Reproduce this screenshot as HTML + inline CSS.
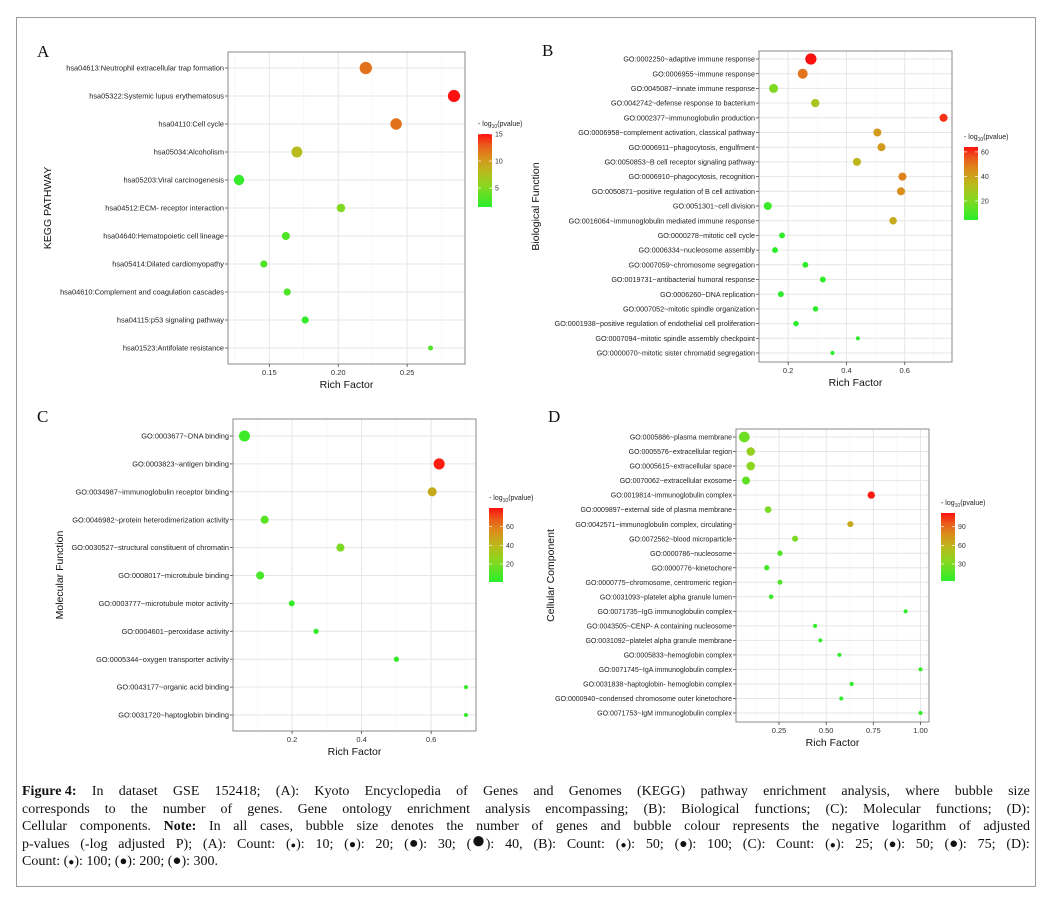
<!DOCTYPE html>
<html><head><meta charset="utf-8">
<style>
html,body{margin:0;padding:0;background:#fff;}
#wrap{position:relative;width:1046px;height:905px;overflow:hidden;background:#fff;}
#frame{position:absolute;left:16px;top:17px;width:1020px;height:870px;border:1px solid #9a9a9a;box-sizing:border-box;}
svg text{font-family:"Liberation Sans",Arial,sans-serif;}
#caption{position:absolute;left:22px;top:783px;width:1008px;font-family:"Liberation Serif",serif;font-size:14px;line-height:17.5px;color:#111;}
#caption .ln{text-align:justify;text-align-last:justify;white-space:nowrap;display:flex;justify-content:space-between;}
#caption .last{text-align:left;text-align-last:left;display:block;}
#caption b{font-weight:bold;}
.bl{display:inline-block;line-height:0;vertical-align:baseline;}
</style></head>
<body>
<div id="wrap">
<div id="frame"></div>
<svg id="chart" width="1046" height="905" style="position:absolute;left:0;top:0"></svg>
<div id="caption">
<div class="ln"><span><b>Figure 4:</b></span><span>In</span><span>dataset</span><span>GSE</span><span>152418;</span><span>(A):</span><span>Kyoto</span><span>Encyclopedia</span><span>of</span><span>Genes</span><span>and</span><span>Genomes</span><span>(KEGG)</span><span>pathway</span><span>enrichment</span><span>analysis,</span><span>where</span><span>bubble</span><span>size</span></div>
<div class="ln"><span>corresponds</span><span>to</span><span>the</span><span>number</span><span>of</span><span>genes.</span><span>Gene</span><span>ontology</span><span>enrichment</span><span>analysis</span><span>encompassing;</span><span>(B):</span><span>Biological</span><span>functions;</span><span>(C):</span><span>Molecular</span><span>functions;</span><span>(D):</span></div>
<div class="ln"><span>Cellular</span><span>components.</span><span><b>Note:</b></span><span>In</span><span>all</span><span>cases,</span><span>bubble</span><span>size</span><span>denotes</span><span>the</span><span>number</span><span>of</span><span>genes</span><span>and</span><span>bubble</span><span>colour</span><span>represents</span><span>the</span><span>negative</span><span>logarithm</span><span>of</span><span>adjusted</span></div>
<div class="ln"><span>p-values</span><span>(-log</span><span>adjusted</span><span>P);</span><span>(A):</span><span>Count:</span><span>(<span class="bl" style="font-size:9px">●</span>):</span><span>10;</span><span>(<span class="bl" style="font-size:12px">●</span>):</span><span>20;</span><span>(<span class="bl" style="font-size:16px">●</span>):</span><span>30;</span><span>(<span class="bl" style="font-size:24px">●</span>):</span><span>40,</span><span>(B):</span><span>Count:</span><span>(<span class="bl" style="font-size:10px">●</span>):</span><span>50;</span><span>(<span class="bl" style="font-size:14px">●</span>):</span><span>100;</span><span>(C):</span><span>Count:</span><span>(<span class="bl" style="font-size:10px">●</span>):</span><span>25;</span><span>(<span class="bl" style="font-size:13px">●</span>):</span><span>50;</span><span>(<span class="bl" style="font-size:15px">●</span>):</span><span>75;</span><span>(D):</span></div>
<div class="last">Count: (<span class="bl" style="font-size:10px">●</span>): 100; (<span class="bl" style="font-size:13px">●</span>): 200; (<span class="bl" style="font-size:15px">●</span>): 300.</div>
</div>
</div>
<script>
// ---------- Panel A data ----------
const aLabels = ["hsa04613:Neutrophil extracellular trap formation","hsa05322:Systemic lupus erythematosus","hsa04110:Cell cycle","hsa05034:Alcoholism","hsa05203:Viral carcinogenesis","hsa04512:ECM- receptor interaction","hsa04640:Hematopoietic cell lineage","hsa05414:Dilated cardiomyopathy","hsa04610:Complement and coagulation cascades","hsa04115:p53 signaling pathway","hsa01523:Antifolate resistance"];
const aRich = [0.220,0.284,0.242,0.170,0.128,0.202,0.162,0.146,0.163,0.176,0.267];
const aCount = [38,37,33,30,27,18,16,13,13,13,6];
const aLogP = [12,15,12,8,2,5,3,3,3,2,3];
const aTicks = [0.15,0.20,0.25];
const aTickLabels = ["0.15","0.20","0.25"];
const aLegTicks = [5,10,15];
// ---------- Panel B data ----------
const bLabels = ["GO:0002250~adaptive immune response","GO:0006955~immune response","GO:0045087~innate immune response","GO:0042742~defense response to bacterium","GO:0002377~immunoglobulin production","GO:0006958~complement activation, classical pathway","GO:0006911~phagocytosis, engulfment","GO:0050853~B cell receptor signaling pathway","GO:0006910~phagocytosis, recognition","GO:0050871~positive regulation of B cell activation","GO:0051301~cell division","GO:0016064~immunoglobulin mediated immune response","GO:0000278~mitotic cell cycle","GO:0006334~nucleosome assembly","GO:0007059~chromosome segregation","GO:0019731~antibacterial humoral response","GO:0006260~DNA replication","GO:0007052~mitotic spindle organization","GO:0001938~positive regulation of endothelial cell proliferation","GO:0007094~mitotic spindle assembly checkpoint","GO:0000070~mitotic sister chromatid segregation"];
const bRich = [0.278,0.250,0.150,0.293,0.733,0.506,0.520,0.436,0.592,0.587,0.130,0.560,0.179,0.155,0.259,0.319,0.175,0.294,0.227,0.439,0.352];
const bCount = [145,115,95,80,75,75,75,75,75,75,75,65,40,40,40,40,40,35,35,20,20];
const bLogP = [64,50,20,30,60,42,42,35,48,45,8,38,5,5,5,5,5,5,5,5,5];
const bTicks = [0.2,0.4,0.6];
const bTickLabels = ["0.2","0.4","0.6"];
const bLegTicks = [20,40,60];
// ---------- Panel C data ----------
const cLabels = ["GO:0003677~DNA binding","GO:0003823~antigen binding","GO:0034987~immunoglobulin receptor binding","GO:0046982~protein heterodimerization activity","GO:0030527~structural constituent of chromatin","GO:0008017~microtubule binding","GO:0003777~microtubule motor activity","GO:0004601~peroxidase activity","GO:0005344~oxygen transporter activity","GO:0043177~organic acid binding","GO:0031720~haptoglobin binding"];
const cRich = [0.063,0.623,0.603,0.121,0.339,0.108,0.199,0.269,0.500,0.700,0.700];
const cCount = [75,75,50,40,40,40,22,17,17,10,10];
const cLogP = [5,78,45,12,20,8,3,3,3,3,3];
const cTicks = [0.2,0.4,0.6];
const cTickLabels = ["0.2","0.4","0.6"];
const cLegTicks = [20,40,60];
// ---------- Panel D data ----------
const dLabels = ["GO:0005886~plasma membrane","GO:0005576~extracellular region","GO:0005615~extracellular space","GO:0070062~extracellular exosome","GO:0019814~immunoglobulin complex","GO:0009897~external side of plasma membrane","GO:0042571~immunoglobulin complex, circulating","GO:0072562~blood microparticle","GO:0000786~nucleosome","GO:0000776~kinetochore","GO:0000775~chromosome, centromeric region","GO:0031093~platelet alpha granule lumen","GO:0071735~IgG immunoglobulin complex","GO:0043505~CENP- A containing nucleosome","GO:0031092~platelet alpha granule membrane","GO:0005833~hemoglobin complex","GO:0071745~IgA immunoglobulin complex","GO:0031838~haptoglobin- hemoglobin complex","GO:0000940~condensed chromosome outer kinetochore","GO:0071753~IgM immunoglobulin complex"];
const dRich = [0.066,0.100,0.100,0.075,0.739,0.192,0.628,0.335,0.255,0.185,0.255,0.208,0.921,0.441,0.469,0.570,1.000,0.635,0.580,1.000];
const dCount = [300,190,190,170,140,115,95,95,75,75,65,55,42,42,42,42,42,42,42,42];
const dLogP = [25,40,35,20,110,30,65,30,15,12,15,8,5,5,5,5,5,5,5,5];
const dTicks = [0.25,0.50,0.75,1.00];
const dTickLabels = ["0.25","0.50","0.75","1.00"];
const dLegTicks = [30,60,90];

const NS = "http://www.w3.org/2000/svg";
const svg = document.getElementById("chart");
function mk(tag, attrs, parent){
  const e = document.createElementNS(NS, tag);
  for (const k in attrs) e.setAttribute(k, attrs[k]);
  (parent||svg).appendChild(e);
  return e;
}
const stops = [[0,[42,238,42]],[0.3,[140,214,32]],[0.5,[188,184,28]],[0.7,[220,138,28]],[0.85,[234,90,28]],[1,[255,16,16]]];
function colorAt(t){
  t = Math.max(0, Math.min(1, t));
  for (let i=1;i<stops.length;i++){
    if (t <= stops[i][0]){
      const a=stops[i-1], b=stops[i], f=(t-a[0])/(b[0]-a[0]);
      const c=a[1].map((v,j)=>Math.round(v+(b[1][j]-v)*f));
      return "rgb("+c.join(",")+")";
    }
  }
  return "rgb(255,16,16)";
}

function panel(p){
  const g = mk("g", {});
  
  
  const xs = v => p.x0 + (v - p.d0) / (p.d1 - p.d0) * (p.x1 - p.x0);
  const n = p.labels.length;
  const ys = i => p.yFirst + i * (p.yLast - p.yFirst) / (n - 1);
  mk("rect", {x:p.x0, y:p.y0, width:p.x1-p.x0, height:p.y1-p.y0, fill:"#fff"}, g);
  const step = p.ticks[1]-p.ticks[0];
  for (let v = p.ticks[0]-step/2; v < p.d1; v += step){
    if (v > p.d0) mk("line", {x1:xs(v), x2:xs(v), y1:p.y0, y2:p.y1, stroke:"#f3f3f3", "stroke-width":0.6}, g);
  }
  p.ticks.forEach(v => {
    const l = mk("line", {x1:xs(v), x2:xs(v), y1:p.y0, y2:p.y1, stroke:"#e6e6e6", "stroke-width":1}, g);
    
    
  });
  p.labels.forEach((lab, i) => {
    const gl = mk("line", {x1:p.x0, x2:p.x1, y1:ys(i), y2:ys(i), stroke:"#e6e6e6", "stroke-width":1}, g);
    
    
    mk("line", {x1:p.x0-3, x2:p.x0, y1:ys(i), y2:ys(i), stroke:"#444", "stroke-width":0.8}, g);
    const t = mk("text", {x:p.x0-4, y:ys(i)+2.6, "font-size":p.fs, "text-anchor":"end", fill:"#222"}, g);
    t.textContent = lab;
    
    
  });
  const br = mk("rect", {x:p.x0, y:p.y0, width:p.x1-p.x0, height:p.y1-p.y0, fill:"none", stroke:"#8a8a8a", "stroke-width":1}, g);
  
  
  p.ticks.forEach((v, i) => {
    mk("line", {x1:xs(v), x2:xs(v), y1:p.y1, y2:p.y1+3, stroke:"#444", "stroke-width":0.8}, g);
    const t = mk("text", {x:xs(v), y:p.y1+11, "font-size":7.5, "text-anchor":"middle", fill:"#333"}, g);
    t.textContent = p.tickLabels[i];
    
    
  });
  const lmin = p.legMin, lmax = p.legMax;
  p.labels.forEach((lab, i) => {
    const c = mk("circle", {cx:xs(p.rich[i]), cy:ys(i), r:(p.k*Math.sqrt(p.count[i])).toFixed(2), fill:colorAt((p.logp[i]-lmin)/(lmax-lmin))}, g);
    
    
  });
  const xt = mk("text", {x:(p.x0+p.x1)/2, y:p.y1+24, "font-size":10.5, "text-anchor":"middle", fill:"#111"}, g);
  xt.textContent = "Rich Factor";
  
  
  const yt = mk("text", {x:p.ytx, y:(p.y0+p.y1)/2, "font-size":10.5, "text-anchor":"middle", fill:"#111", transform:"rotate(-90 "+p.ytx+" "+((p.y0+p.y1)/2)+")"}, g);
  yt.textContent = p.ytitle;
  
  
  const pl = mk("text", {x:p.lx, y:p.ly, "font-size":17, fill:"#111", style:"font-family:'Liberation Serif',serif"}, g);
  pl.textContent = p.letter;
  
  
  const lg = mk("g", {}, g);
  
  
  const lt = mk("text", {x:p.legX, y:p.legY0-8, "font-size":7, fill:"#222"}, lg);
  lt.innerHTML = '- log<tspan font-size="5" dy="2">10</tspan><tspan dy="-2">(pvalue)</tspan>';
  
  
  const gid = "grad" + p.id;
  const defs = mk("defs", {}, lg);
  const lgr = mk("linearGradient", {id:gid, x1:0, y1:1, x2:0, y2:0}, defs);
  for (let s=0; s<=20; s++){ mk("stop", {offset:(s/20), "stop-color":colorAt(s/20)}, lgr); }
  const bar = mk("rect", {x:p.legX, y:p.legY0, width:14, height:p.legY1-p.legY0, fill:"url(#"+gid+")"}, lg);
  
  
  const ly = v => p.legY1 - (v - lmin)/(lmax - lmin)*(p.legY1 - p.legY0);
  p.legTicks.forEach(v => {
    mk("line", {x1:p.legX, x2:p.legX+3, y1:ly(v), y2:ly(v), stroke:"#fff", "stroke-width":0.7}, lg);
    mk("line", {x1:p.legX+11, x2:p.legX+14, y1:ly(v), y2:ly(v), stroke:"#fff", "stroke-width":0.7}, lg);
    const t = mk("text", {x:p.legX+17, y:ly(v)+2.5, "font-size":7, fill:"#333"}, lg);
    t.textContent = v;
    
    
  });
}

panel({id:"a", letter:"A", lx:37, ly:57, labels:aLabels, rich:aRich, count:aCount, logp:aLogP, ticks:aTicks, tickLabels:aTickLabels,
  x0:228, x1:465, y0:52, y1:364, d0:0.120, d1:0.292, yFirst:68, yLast:348, k:1.0, fs:7.4,
  ytitle:"KEGG PATHWAY", ytx:51, legX:478, legY0:134, legY1:207, legMin:1.5, legMax:15, legTicks:aLegTicks});
panel({id:"b", letter:"B", lx:542, ly:56, labels:bLabels, rich:bRich, count:bCount, logp:bLogP, ticks:bTicks, tickLabels:bTickLabels,
  x0:759, x1:952, y0:51, y1:362, d0:0.100, d1:0.762, yFirst:59, yLast:353, k:0.465, fs:7.2,
  ytitle:"Biological Function", ytx:539, legX:964, legY0:147, legY1:220, legMin:4.5, legMax:64, legTicks:bLegTicks});
panel({id:"c", letter:"C", lx:37, ly:422, labels:cLabels, rich:cRich, count:cCount, logp:cLogP, ticks:cTicks, tickLabels:cTickLabels,
  x0:233, x1:476, y0:419, y1:731, d0:0.030, d1:0.729, yFirst:436, yLast:715, k:0.64, fs:7.4,
  ytitle:"Molecular Function", ytx:63, legX:489, legY0:508, legY1:582, legMin:0.7, legMax:80, legTicks:cLegTicks});
panel({id:"d", letter:"D", lx:548, ly:422, labels:dLabels, rich:dRich, count:dCount, logp:dLogP, ticks:dTicks, tickLabels:dTickLabels,
  x0:736, x1:929, y0:429, y1:722, d0:0.022, d1:1.045, yFirst:437, yLast:713, k:0.31, fs:7.0,
  ytitle:"Cellular Component", ytx:554, legX:941, legY0:513, legY1:581, legMin:2.7, legMax:112, legTicks:dLegTicks});
</script>
</body></html>
